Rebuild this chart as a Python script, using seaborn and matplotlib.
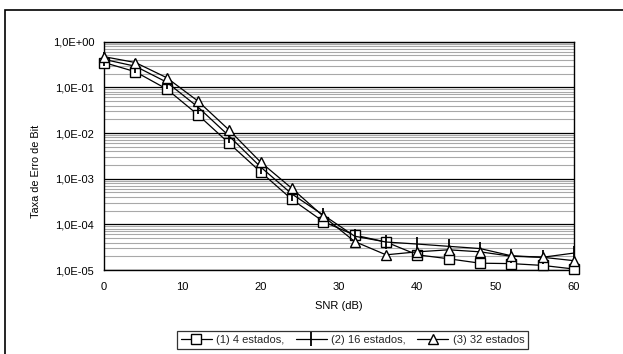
import numpy as np
import pandas as pd
import matplotlib
matplotlib.use("Agg")
import matplotlib.pyplot as plt
from matplotlib.ticker import FuncFormatter, LogLocator, FixedLocator, NullFormatter
from matplotlib.patches import Rectangle
import seaborn as sns

snr = [0, 4, 8, 12, 16, 20, 24, 28, 32, 36, 40, 44, 48, 52, 56, 60]
ber_4 = [0.35, 0.22, 0.092, 0.025, 0.0059, 0.0014, 3.5e-4, 1.15e-4, 5.8e-5, 4.1e-5,
         2.15e-5, 1.76e-5, 1.41e-5, 1.38e-5, 1.26e-5, 1.05e-5]
ber_16 = [0.41, 0.29, 0.13, 0.037, 0.0085, 0.0018, 4.6e-4, 1.6e-4, 5.5e-5, 4.1e-5,
          3.7e-5, 3.3e-5, 2.95e-5, 2.05e-5, 1.9e-5, 2.35e-5]
ber_32 = [0.47, 0.35, 0.163, 0.050, 0.0115, 0.0023, 6.1e-4, 1.5e-4, 4.2e-5, 2.15e-5,
          2.5e-5, 2.77e-5, 2.5e-5, 2.0e-5, 1.9e-5, 1.6e-5]
labels = ["(1) 4 estados,", "(2) 16 estados,", "(3) 32 estados"]
x_label = "SNR (dB)"
y_label = "Taxa de Erro de Bit"

FS = 8.0

sns.set_theme(style="white")
plt.rcParams["font.family"] = ["Liberation Sans", "DejaVu Sans"]
plt.rcParams["font.size"] = FS

fig = plt.figure(figsize=(6.23, 3.54), dpi=100)
ax = fig.add_axes([104 / 623, 1 - 270 / 354, (574 - 104) / 623, (270 - 41.7) / 354])

# outer chart border (partially cropped)
fig.patches.append(Rectangle((5 / 623, -0.2), 1.2, 1 - 10 / 354 + 0.2,
                             transform=fig.transFigure, fill=False,
                             edgecolor="black", linewidth=1.2, zorder=0))

styles = [
    dict(marker="s", markersize=7, markerfacecolor="white", markeredgecolor="black", markeredgewidth=1.0),
    dict(marker="|", markersize=10, markeredgecolor="black", markeredgewidth=1.3),
    dict(marker="^", markersize=7.5, markerfacecolor="white", markeredgecolor="black", markeredgewidth=1.0),
]
for vals, lab, st in zip([ber_4, ber_16, ber_32], labels, styles):
    df = pd.DataFrame({"snr": snr, "ber": vals})
    sns.lineplot(data=df, x="snr", y="ber", ax=ax, color="black", linewidth=0.9,
                 label=lab, zorder=3, clip_on=False, **st)

ax.set_yscale("log")
ax.set_ylim(1e-5, 1)
ax.set_xlim(0, 60)
ax.set_xticks([0, 10, 20, 30, 40, 50, 60])
ax.yaxis.set_major_locator(FixedLocator([1e-5, 1e-4, 1e-3, 1e-2, 1e-1, 1]))
ax.yaxis.set_major_formatter(FuncFormatter(lambda v, p: "1,0E{:+03d}".format(int(round(np.log10(v))))))
ax.yaxis.set_minor_locator(LogLocator(base=10, subs=np.arange(2, 10), numticks=20))
ax.yaxis.set_minor_formatter(NullFormatter())

ax.grid(True, which="major", axis="y", color="black", linewidth=0.9)
ax.grid(True, which="minor", axis="y", color="#a8a8a8", linewidth=0.8)
ax.grid(False, axis="x")
ax.set_axisbelow(True)

for s in ax.spines.values():
    s.set_color("black")
    s.set_linewidth(1.0)
    s.set_visible(True)

ax.tick_params(axis="both", which="major", direction="inout", length=6, width=1,
               color="black", labelsize=FS, labelcolor="black")
ax.tick_params(axis="x", pad=6)
ax.tick_params(axis="y", pad=4)
ax.tick_params(axis="y", which="minor", length=0)

ax.set_xlabel(x_label, fontsize=FS, color="black", labelpad=6)
ax.set_ylabel(y_label, fontsize=7.8, color="black")
ax.yaxis.set_label_coords((36 - 104) / 470, (270 - 171) / 228.3)
ax.yaxis.label.set_verticalalignment("center")

leg = ax.legend(loc="center", bbox_to_anchor=(352.5 / 623, (354 - 339.7) / 354),
                bbox_transform=fig.transFigure, ncol=3, frameon=True, fancybox=False,
                edgecolor="black", fontsize=FS, handlelength=2.8, handletextpad=0.4,
                columnspacing=1.0, borderpad=0.35, borderaxespad=0)
leg.get_frame().set_linewidth(0.9)

fig.savefig("out.png", dpi=100, facecolor="white")
